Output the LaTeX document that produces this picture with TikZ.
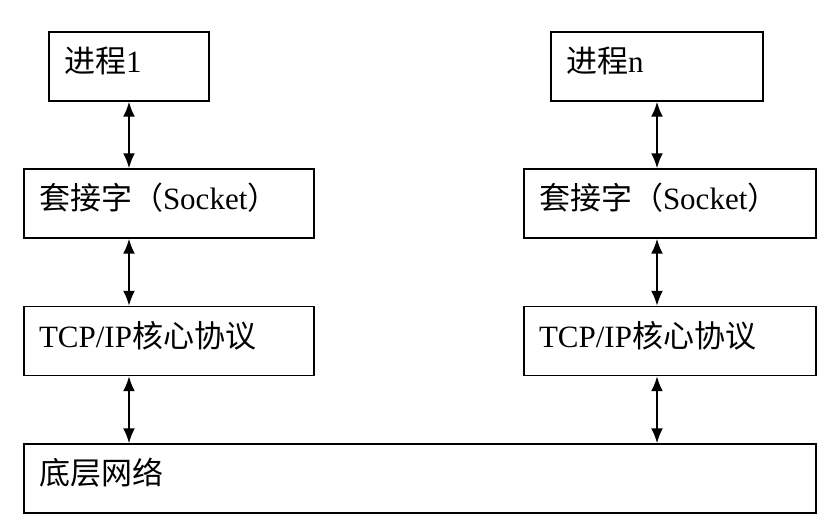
\documentclass[tikz,border=0pt]{standalone}
\usepackage{fontspec}
\setmainfont{Liberation Serif}
\newfontfamily\cjk{Noto Sans CJK SC}
\usetikzlibrary{arrows.meta}
\begin{document}
\begin{tikzpicture}[x=1pt,y=-1pt,
		layer/.style={draw,line width=1.4pt,minimum height=69pt,inner xsep=15pt,
			align=left,text height=20pt,text depth=8pt,font=\fontsize{31}{35}\selectfont},
		link/.style={<->,>={Latex[length=15pt,width=12pt]},line width=2pt}]
	\useasboundingbox (0,0) rectangle (835,532);
	\node [layer,text width=130pt] (p1) at (129,66.5) {{\cjk 进程}1};
	\node [layer,text width=260pt] (s1) at (169,203.5) {{\cjk 套接字（}Socket{\cjk ）}};
	\node [layer,text width=260pt] (t1) at (169,341) {TCP/IP{\cjk 核心协议}};
	\node [layer,text width=182pt] (pn) at (657,66.5) {{\cjk 进程}n};
	\node [layer,text width=262pt] (sn) at (670,203.5) {{\cjk 套接字（}Socket{\cjk ）}};
	\node [layer,text width=262pt] (tn) at (670,341) {TCP/IP{\cjk 核心协议}};
	\node [layer,text width=762pt] (net) at (420,478.5) {{\cjk 底层网络}};
	
	\draw [link] (p1.south) -- (p1.south |- s1.north);
	\draw [link] (p1.south |- s1.south) -- (p1.south |- t1.north);
	\draw [link] (p1.south |- t1.south) -- (p1.south |- net.north);
	\draw [link] (pn.south) -- (pn.south |- sn.north);
	\draw [link] (pn.south |- sn.south) -- (pn.south |- tn.north);
	\draw [link] (pn.south |- tn.south) -- (pn.south |- net.north);
\end{tikzpicture}
\end{document}
